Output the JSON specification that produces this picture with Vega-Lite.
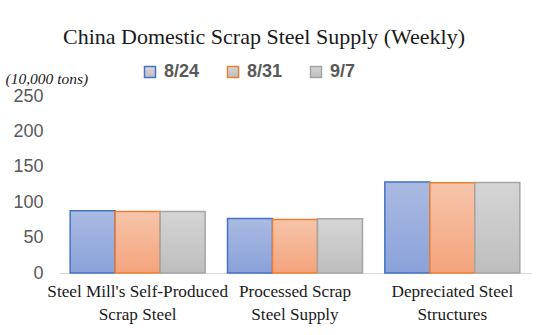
{
  "$schema": "https://vega.github.io/schema/vega-lite/v6.json",
  "width": 472,
  "height": 177,
  "autosize": {"type": "none"},
  "padding": {"left": 59, "top": 96, "right": 22, "bottom": 62},
  "background": "white",
  "title": {
    "text": "China Domestic Scrap Steel Supply (Weekly)",
    "font": "Liberation Serif",
    "fontSize": 22,
    "fontWeight": "normal",
    "color": "#1a1a1a",
    "anchor": "middle",
    "frame": "group",
    "dx": -31,
    "offset": 14
  },
  "config": {
    "view": {"stroke": null}
  },
  "data": {
    "values": [
      {"category": "Steel Mill's Self-Produced Scrap Steel", "week": "8/24", "value": 88},
      {"category": "Steel Mill's Self-Produced Scrap Steel", "week": "8/31", "value": 87},
      {"category": "Steel Mill's Self-Produced Scrap Steel", "week": "9/7", "value": 87},
      {"category": "Processed Scrap Steel Supply", "week": "8/24", "value": 77},
      {"category": "Processed Scrap Steel Supply", "week": "8/31", "value": 75.5},
      {"category": "Processed Scrap Steel Supply", "week": "9/7", "value": 76.5},
      {"category": "Depreciated Steel Structures", "week": "8/24", "value": 128.5},
      {"category": "Depreciated Steel Structures", "week": "8/31", "value": 127.5},
      {"category": "Depreciated Steel Structures", "week": "9/7", "value": 128}
    ]
  },
  "mark": {"type": "bar", "strokeWidth": 1.5},
  "encoding": {
    "x": {
      "field": "category",
      "type": "nominal",
      "sort": null,
      "scale": {"paddingInner": 0.142, "paddingOuter": 0.071},
      "axis": {
        "title": null,
        "labelAngle": 0,
        "labelFont": "Liberation Serif",
        "labelFontSize": 17.2,
        "labelColor": "#1a1a1a",
        "labelPadding": 9,
        "labelLineHeight": 23,
        "labelBaseline": "top",
        "labelLimit": 260,
        "labelOverlap": false,
        "ticks": false,
        "domainColor": "#D9D9D9",
        "domainWidth": 1,
        "labelExpr": "datum.value == \"Steel Mill's Self-Produced Scrap Steel\" ? [\"Steel Mill's Self-Produced\", 'Scrap Steel'] : datum.value == 'Processed Scrap Steel Supply' ? ['Processed Scrap', 'Steel Supply'] : ['Depreciated Steel', 'Structures']"
      }
    },
    "xOffset": {"field": "week", "type": "nominal", "sort": null, "scale": {"paddingInner": 0, "paddingOuter": 0}},
    "y": {
      "field": "value",
      "type": "quantitative",
      "scale": {"domain": [0, 250], "nice": false},
      "axis": {
        "title": "(10,000 tons)",
        "titleAngle": 0,
        "titleFont": "Liberation Serif",
        "titleFontStyle": "italic",
        "titleFontWeight": "normal",
        "titleFontSize": 15.5,
        "titleColor": "#1a1a1a",
        "titleX": -54,
        "titleY": -13,
        "titleAlign": "left",
        "titleBaseline": "alphabetic",
        "values": [0, 50, 100, 150, 200, 250],
        "labelFont": "Liberation Sans",
        "labelFontSize": 18,
        "labelColor": "#595959",
        "labelPadding": 16,
        "ticks": false,
        "domain": false,
        "grid": false
      }
    },
    "fill": {
      "condition": [
        {"test": "datum.week == '8/24'", "value": {"gradient": "linear", "x1": 0, "y1": 0, "x2": 0, "y2": 1, "stops": [{"offset": 0, "color": "#AABAE2"}, {"offset": 1, "color": "#8AA2DA"}]}},
        {"test": "datum.week == '8/31'", "value": {"gradient": "linear", "x1": 0, "y1": 0, "x2": 0, "y2": 1, "stops": [{"offset": 0, "color": "#F6C5AA"}, {"offset": 1, "color": "#F4A37C"}]}}
      ],
      "value": {"gradient": "linear", "x1": 0, "y1": 0, "x2": 0, "y2": 1, "stops": [{"offset": 0, "color": "#D5D5D5"}, {"offset": 1, "color": "#BEBEBE"}]}
    },
    "stroke": {
      "field": "week",
      "type": "nominal",
      "sort": null,
      "scale": {"domain": ["8/24", "8/31", "9/7"], "range": ["#4472C4", "#ED7D31", "#A5A5A5"]},
      "legend": {
        "title": null,
        "orient": "none",
        "direction": "horizontal",
        "legendX": 82,
        "legendY": -33,
        "padding": 0,
        "symbolType": "square",
        "symbolSize": 121,
        "symbolStrokeWidth": 1.5,
        "labelFont": "Liberation Sans",
        "labelFontWeight": "bold",
        "labelFontSize": 18,
        "labelColor": "#595959",
        "labelOffset": 5,
        "columnPadding": 24,
        "encode": {
          "symbols": {
            "update": {
              "fill": {"signal": "datum.value == '8/24' ? '#9AAEDE' : datum.value == '8/31' ? '#F5B493' : '#CACACA'"},
              "fillOpacity": {"value": 1}
            }
          }
        }
      }
    }
  }
}
